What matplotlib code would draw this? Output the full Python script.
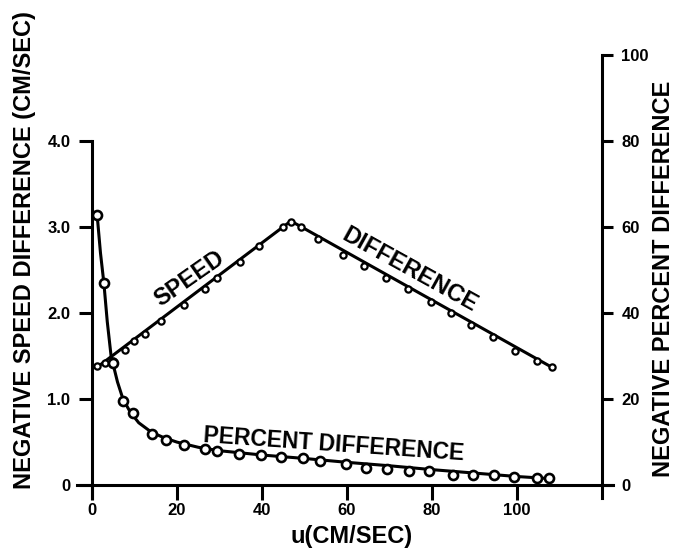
import matplotlib
matplotlib.use("Agg")
import matplotlib.pyplot as plt

plt.rcParams['font.family'] = ['Liberation Sans', 'DejaVu Sans']
plt.rcParams['font.weight'] = 'bold'

# ---- data ----
speed_u = [1.2, 3.0, 5.0, 7.8, 10.0, 12.5, 16.2, 21.6, 26.6, 29.4, 34.8, 39.3,
           45.0, 46.8, 49.2, 53.2, 59.0, 64.0, 69.2, 74.4, 79.8, 84.5, 89.2,
           94.4, 99.5, 104.7, 108.2]
speed_v = [1.38, 1.42, 1.44, 1.57, 1.68, 1.76, 1.91, 2.09, 2.28, 2.41, 2.59, 2.78,
           3.00, 3.06, 3.00, 2.86, 2.67, 2.55, 2.41, 2.28, 2.13, 2.00, 1.86,
           1.72, 1.56, 1.44, 1.37]
speed_line_u = [1.2, 46.8, 108.2]
speed_line_v = [1.37, 3.07, 1.37]

pct_u = [1.2, 2.8, 5.0, 7.3, 9.6, 14.1, 17.4, 21.6, 26.6, 29.4, 34.6, 39.8, 44.5,
         49.6, 53.6, 59.8, 64.5, 69.4, 74.6, 79.3, 85.0, 89.6, 94.6, 99.3,
         104.7, 107.5]
pct_v = [62.8, 47.0, 28.4, 19.5, 16.7, 12.0, 10.5, 9.3, 8.4, 7.9, 7.2, 7.0, 6.5,
         6.3, 5.6, 4.9, 4.0, 3.7, 3.3, 3.3, 2.3, 2.3, 2.3, 1.9, 1.6, 1.6]
pct_line_u = [1.2, 2.0, 2.8, 3.6, 4.5, 6.0, 7.3, 9.0, 11.0, 14.0, 17.0, 20.0,
              25.0, 30.0, 40.0, 50.0, 60.0, 70.0, 80.0, 90.0, 100.0, 108.0]
pct_line_v = [63.0, 54.0, 47.0, 38.0, 30.0, 24.0, 20.0, 17.0, 14.5, 12.3, 11.0,
              10.0, 8.8, 8.0, 7.0, 6.2, 5.3, 4.5, 3.6, 2.8, 2.0, 1.5]

x_ticks = [0, 20, 40, 60, 80, 100]
x_ticklabels = ['0', '20', '40', '60', '80', '100']
left_ticks = [0, 1, 2, 3, 4]
left_ticklabels = ['0', '1.0', '2.0', '3.0', '4.0']
right_ticks = [0, 20, 40, 60, 80, 100]
right_ticklabels = ['0', '20', '40', '60', '80', '100']

fig = plt.figure(figsize=(6.78, 5.5), dpi=100)
ax = fig.add_axes([0.1137, 0.0945, 0.793, 0.8055])
ax2 = ax.twinx()

ax.set_xlim(-3.5, 123)
ax.set_ylim(-0.15, 5.0)
ax2.set_ylim(-3, 100)

lw = 2.2
# speed difference
ax.plot(speed_line_u, speed_line_v, color='black', lw=lw, zorder=3)
ax.plot(speed_u, speed_v, linestyle='none', marker='o', ms=4.5, mfc='white',
        mec='black', mew=1.6, zorder=4)
# percent difference
ax2.plot(pct_line_u, pct_line_v, color='black', lw=lw, zorder=3)
ax2.plot(pct_u, pct_v, linestyle='none', marker='o', ms=6.5, mfc='white',
         mec='black', mew=1.9, zorder=4)

for a in (ax, ax2):
    a.patch.set_visible(False)
    for s in a.spines.values():
        s.set_visible(False)
        s.set_linewidth(lw)

ax.spines['left'].set_visible(True)
ax.spines['left'].set_position(('data', 0))
ax.spines['left'].set_bounds(-0.15, 4.0)
ax.spines['bottom'].set_visible(True)
ax.spines['bottom'].set_position(('data', 0))
ax.spines['bottom'].set_bounds(-3.5, 122.6)
ax2.spines['right'].set_visible(True)
ax2.spines['right'].set_position(('data', 120))
ax2.spines['right'].set_bounds(-3, 100)

ax.set_xticks(x_ticks)
ax.set_xticklabels(x_ticklabels)
ax.set_yticks(left_ticks)
ax.set_yticklabels(left_ticklabels)
ax2.set_yticks(right_ticks)
ax2.set_yticklabels(right_ticklabels)

ax.tick_params(axis='x', direction='out', length=11, width=lw, pad=2,
               labelsize=12, top=False)
ax.tick_params(axis='y', direction='out', length=9.5, width=lw, pad=6,
               labelsize=12, right=False)
ax2.tick_params(axis='y', direction='out', length=8, width=lw, pad=6,
                labelsize=12, left=False)
for lab in ax.get_xticklabels() + ax.get_yticklabels() + ax2.get_yticklabels():
    lab.set_fontweight('bold')

# axis labels
fig.text(25 / 678, 1 - 250 / 550, 'NEGATIVE SPEED DIFFERENCE (CM/SEC)',
         rotation=90, ha='center', va='center', fontsize=17, fontweight='bold')
fig.text(663 / 678, 1 - 279 / 550, 'NEGATIVE PERCENT DIFFERENCE',
         rotation=90, ha='center', va='center', fontsize=17, fontweight='bold')
fig.text(352 / 678, 1 - 537 / 550, 'u(CM/SEC)', ha='center', va='center',
         fontsize=17, fontweight='bold')

# curve annotations
ax.text(23, 2.40, 'SPEED', rotation=35, ha='center', va='center',
        fontsize=17, fontweight='bold')
ax.text(74.8, 2.50, 'DIFFERENCE', rotation=-29, ha='center', va='center',
        fontsize=17, fontweight='bold')
ax.text(57, 0.47, 'PERCENT DIFFERENCE', rotation=-4, ha='center', va='center',
        fontsize=16.5, fontweight='bold')

fig.savefig('out.png', dpi=100)
